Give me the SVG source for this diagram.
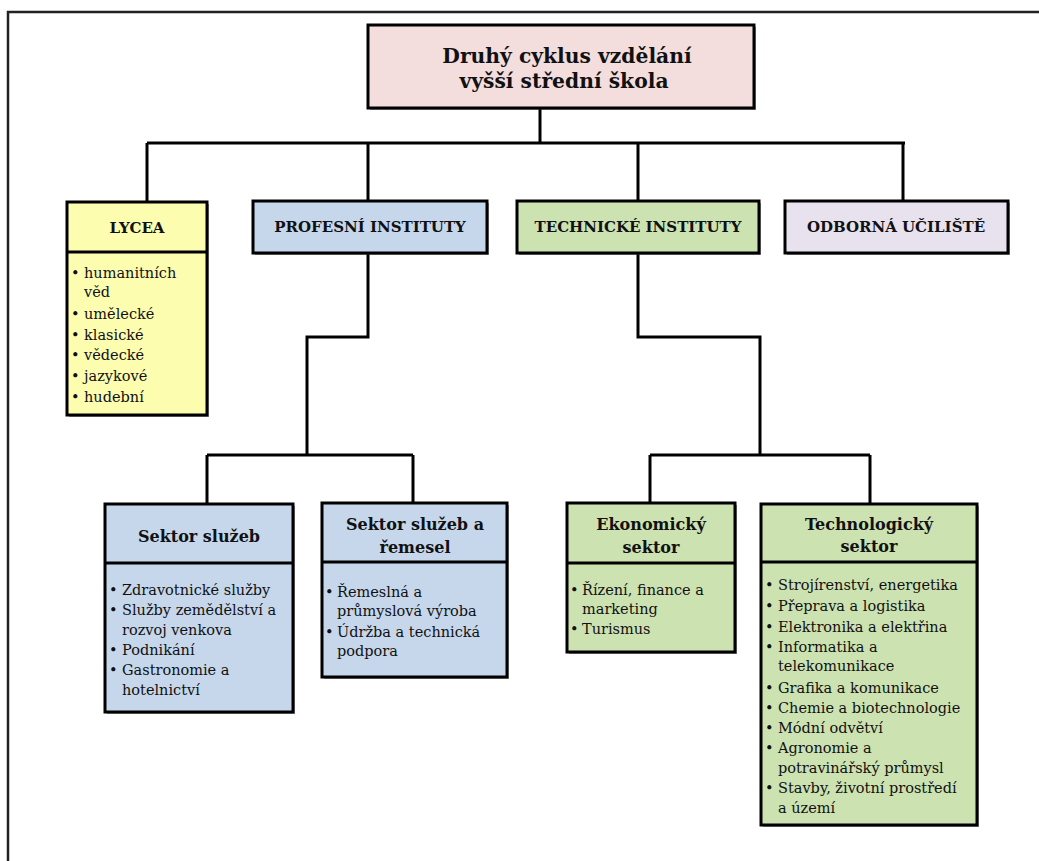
<svg xmlns="http://www.w3.org/2000/svg" width="1039" height="861" viewBox="0 0 1039 861">
<style>
.box{stroke:#000;stroke-width:3}
.sh{fill:#444;opacity:0.55}
.div{stroke:#000;stroke-width:3}
.ln{stroke:#000;stroke-width:3;fill:none}
.h{font-family:"DejaVu Serif","Liberation Serif",serif;font-weight:bold;fill:#111;text-anchor:middle}
.t{font-family:"DejaVu Serif","Liberation Serif",serif;font-size:14.5px;fill:#111}
.pink{fill:#f3dedd}
.yel{fill:#fdfdb0}
.blue{fill:#c6d7ec}
.green{fill:#cde2b1}
.lav{fill:#e8e2ee}
</style>
<rect width="1039" height="861" fill="#fff"/>
<path d="M8,861 V12 H1039" stroke="#222" stroke-width="2.5" fill="none"/>

<g id="connectors">
<path class="ln" d="M540,108 V143"/>
<path class="ln" d="M147,143 H905"/>
<path class="ln" d="M147,143 V202 M368,143 V201 M638,143 V201 M903,143 V201"/>
<path class="ln" d="M368,253 V337 H307 V455"/>
<path class="ln" d="M207,455 H413 M207,455 V504 M413,455 V503"/>
<path class="ln" d="M638,253 V337 H760 V455"/>
<path class="ln" d="M650,455 H870 M650,455 V503 M870,455 V504"/>
</g>

<g id="root">
<rect class="sh" x="370" y="27" width="386" height="83"/>
<rect class="box pink" x="368" y="25" width="386" height="83"/>
<text class="h" font-size="20.3" x="567" y="63">Druhý cyklus vzdělání</text>
<text class="h" font-size="20.3" x="564" y="88">vyšší střední škola</text>
</g>

<g id="lycea">
<rect class="sh" x="69" y="204" width="140" height="213"/>
<rect class="box yel" x="67" y="202" width="140" height="213"/>
<line class="div" x1="67" y1="252" x2="207" y2="252"/>
<text class="h" font-size="15" x="137" y="233">LYCEA</text>
<g class="t">
<text x="71" y="278">•</text><text x="84" y="278">humanitních</text>
<text x="84" y="297">věd</text>
<text x="71" y="319">•</text><text x="84" y="319">umělecké</text>
<text x="71" y="340">•</text><text x="84" y="340">klasické</text>
<text x="71" y="360">•</text><text x="84" y="360">vědecké</text>
<text x="71" y="381">•</text><text x="84" y="381">jazykové</text>
<text x="71" y="402">•</text><text x="84" y="402">hudební</text>
</g>
</g>

<g id="profesni">
<rect class="sh" x="255" y="203" width="234" height="52"/>
<rect class="box blue" x="253" y="201" width="234" height="52"/>
<text class="h" font-size="15" x="370" y="232">PROFESNÍ INSTITUTY</text>
</g>

<g id="technicke">
<rect class="sh" x="519" y="203" width="242" height="52"/>
<rect class="box green" x="517" y="201" width="242" height="52"/>
<text class="h" font-size="15" x="638" y="232">TECHNICKÉ INSTITUTY</text>
</g>

<g id="odborna">
<rect class="sh" x="787" y="203" width="223" height="52"/>
<rect class="box lav" x="785" y="201" width="223" height="52"/>
<text class="h" font-size="15" x="896" y="232">ODBORNÁ UČILIŠTĚ</text>
</g>

<g id="sluzeb">
<rect class="sh" x="107" y="506" width="188" height="208"/>
<rect class="box blue" x="105" y="504" width="188" height="208"/>
<line class="div" x1="105" y1="563" x2="293" y2="563"/>
<text class="h" font-size="16" x="199" y="542">Sektor služeb</text>
<g class="t">
<text x="109" y="595">•</text><text x="122" y="595">Zdravotnické služby</text>
<text x="109" y="615">•</text><text x="122" y="615">Služby zemědělství a</text>
<text x="122" y="635">rozvoj venkova</text>
<text x="109" y="655">•</text><text x="122" y="655">Podnikání</text>
<text x="109" y="675">•</text><text x="122" y="675">Gastronomie a</text>
<text x="122" y="695">hotelnictví</text>
</g>
</g>

<g id="remesel">
<rect class="sh" x="324" y="505" width="185" height="174"/>
<rect class="box blue" x="322" y="503" width="185" height="174"/>
<line class="div" x1="322" y1="562" x2="507" y2="562"/>
<text class="h" font-size="16" x="415" y="530">Sektor služeb a</text>
<text class="h" font-size="16" x="415" y="553">řemesel</text>
<g class="t">
<text x="325" y="597">•</text><text x="337" y="597">Řemeslná a</text>
<text x="337" y="616">průmyslová výroba</text>
<text x="325" y="637">•</text><text x="337" y="637">Údržba a technická</text>
<text x="337" y="656">podpora</text>
</g>
</g>

<g id="ekonomicky">
<rect class="sh" x="569" y="505" width="168" height="149"/>
<rect class="box green" x="567" y="503" width="168" height="149"/>
<line class="div" x1="567" y1="563" x2="735" y2="563"/>
<text class="h" font-size="16" x="651" y="530">Ekonomický</text>
<text class="h" font-size="16" x="651" y="553">sektor</text>
<g class="t">
<text x="570" y="595">•</text><text x="582" y="595">Řízení, finance a</text>
<text x="582" y="614">marketing</text>
<text x="570" y="634">•</text><text x="582" y="634">Turismus</text>
</g>
</g>

<g id="technologicky">
<rect class="sh" x="763" y="506" width="216" height="321"/>
<rect class="box green" x="761" y="504" width="216" height="321"/>
<line class="div" x1="761" y1="562" x2="977" y2="562"/>
<text class="h" font-size="16" x="869" y="530">Technologický</text>
<text class="h" font-size="16" x="869" y="552">sektor</text>
<g class="t">
<text x="765" y="590">•</text><text x="778" y="590">Strojírenství, energetika</text>
<text x="765" y="611">•</text><text x="778" y="611">Přeprava a logistika</text>
<text x="765" y="632">•</text><text x="778" y="632">Elektronika a elektřina</text>
<text x="765" y="652">•</text><text x="778" y="652">Informatika a</text>
<text x="778" y="671">telekomunikace</text>
<text x="765" y="693">•</text><text x="778" y="693">Grafika a komunikace</text>
<text x="765" y="713">•</text><text x="778" y="713">Chemie a biotechnologie</text>
<text x="765" y="733">•</text><text x="778" y="733">Módní odvětví</text>
<text x="765" y="753">•</text><text x="778" y="753">Agronomie a</text>
<text x="778" y="773">potravinářský průmysl</text>
<text x="765" y="793">•</text><text x="778" y="793">Stavby, životní prostředí</text>
<text x="778" y="813">a území</text>
</g>
</g>
</svg>
